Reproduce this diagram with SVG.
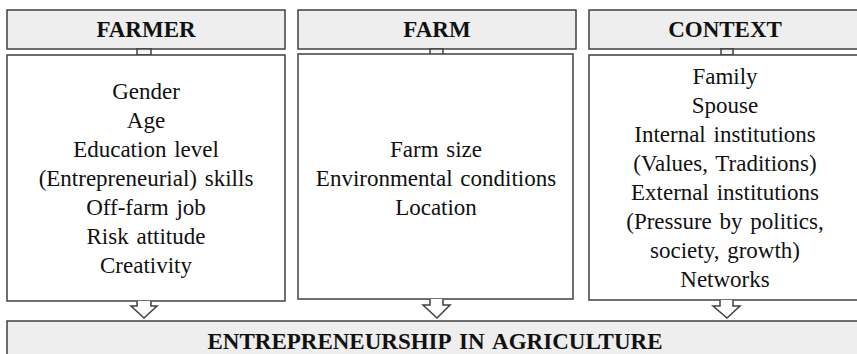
<svg xmlns="http://www.w3.org/2000/svg" width="857" height="354" viewBox="0 0 857 354">
<style>
.hdr{fill:#eeeeee;stroke:#404040;stroke-width:1.5}
.body{fill:#ffffff;stroke:#404040;stroke-width:1.5}
.stub{fill:#f4f4f4;stroke:#404040;stroke-width:1.5}
.arr{fill:#ffffff;stroke:#404040;stroke-width:1.5;stroke-linejoin:miter}
.ht{font-family:"Liberation Serif",serif;font-weight:bold;font-size:23px;fill:#111;text-anchor:middle}
.bt{font-family:"Liberation Serif",serif;font-size:23px;fill:#111;text-anchor:middle;word-spacing:2px}
</style>
<rect width="857" height="354" fill="#ffffff"/>
<g id="farmer">
<rect class="hdr" x="7" y="10" width="278" height="39"/>
<text class="ht" x="146" y="37">FARMER</text>
<rect class="stub" x="137" y="49" width="14" height="6"/>
<rect class="body" x="7" y="55" width="278" height="246"/>
<text class="bt" x="146" y="99">Gender</text>
<text class="bt" x="146" y="128">Age</text>
<text class="bt" x="146" y="157">Education level</text>
<text class="bt" x="146" y="186">(Entrepreneurial) skills</text>
<text class="bt" x="146" y="215">Off-farm job</text>
<text class="bt" x="146" y="244">Risk attitude</text>
<text class="bt" x="146" y="273">Creativity</text>
</g>
<g id="farm">
<rect class="hdr" x="298" y="10" width="278" height="39"/>
<text class="ht" x="437" y="37">FARM</text>
<rect class="stub" x="430" y="49" width="13" height="6"/>
<rect class="body" x="298" y="54" width="275" height="245"/>
<text class="bt" x="436" y="157">Farm size</text>
<text class="bt" x="436" y="186">Environmental conditions</text>
<text class="bt" x="436" y="215">Location</text>
</g>
<g id="context">
<rect class="hdr" x="589" y="10" width="272" height="39"/>
<text class="ht" x="725" y="37">CONTEXT</text>
<rect class="stub" x="721" y="49" width="12" height="6"/>
<rect class="body" x="589" y="55" width="272" height="245"/>
<text class="bt" x="725" y="84">Family</text>
<text class="bt" x="725" y="113">Spouse</text>
<text class="bt" x="725" y="142">Internal institutions</text>
<text class="bt" x="725" y="171">(Values, Traditions)</text>
<text class="bt" x="725" y="200">External institutions</text>
<text class="bt" x="725" y="229">(Pressure by politics,</text>
<text class="bt" x="725" y="258">society, growth)</text>
<text class="bt" x="725" y="287">Networks</text>
</g>
<g id="outcome">
<rect class="hdr" x="7" y="321" width="854" height="40"/>
<text class="ht" x="435" y="349" font-size="22" word-spacing="3">ENTREPRENEURSHIP IN AGRICULTURE</text>
</g>
<g id="connectors">
<path class="arr" d="M137,301 L137,306 L131,306 L144,318 L157,306 L151,306 L151,301"/>
<path class="arr" d="M430,299 L430,305 L423,305 L437,318 L450,305 L443,305 L443,299"/>
<path class="arr" d="M720,300 L720,306 L713,306 L727,318 L740,306 L733,306 L733,300"/>
</g>
</svg>
